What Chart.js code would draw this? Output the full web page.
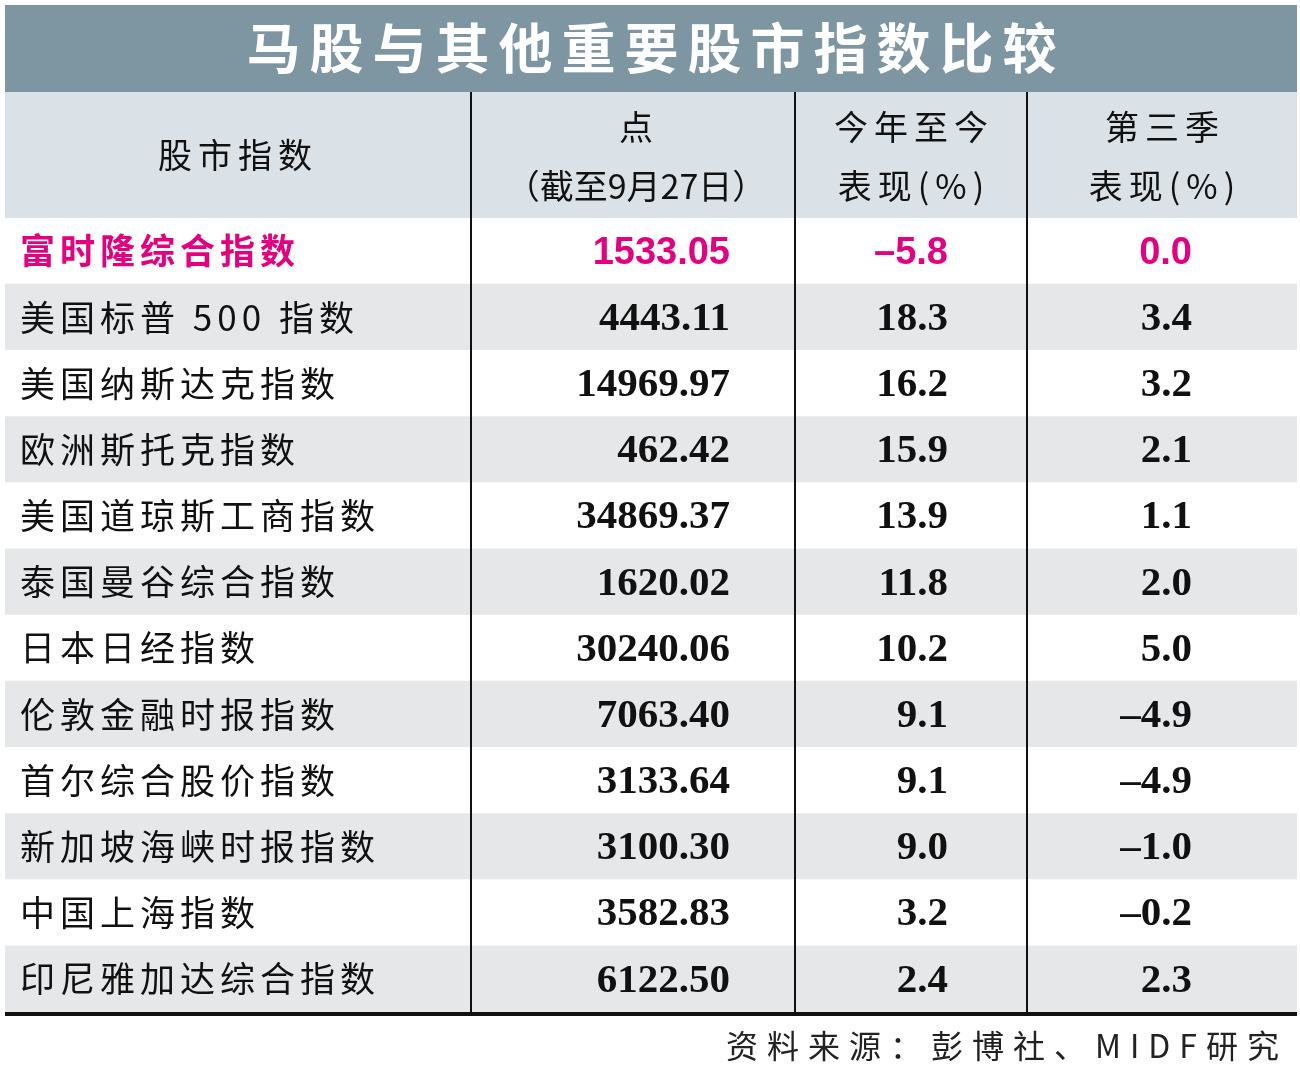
<!DOCTYPE html>
<html><head><meta charset="utf-8">
<script src="https://cdn.jsdelivr.net/npm/chart.js@4"></script>
<style>html,body{margin:0;padding:0;background:#fff}#wrap{width:1300px;height:1084px}</style>
</head><body><div id="wrap"><canvas id="c"></canvas></div>
<script>
const title = "马股与其他重要股市指数比较";
const headers = [["股市指数"],["点","（截至9月27日）"],["今年至今","表现(%)"],["第三季","表现(%)"]];
const names = ["富时隆综合指数","美国标普 500 指数","美国纳斯达克指数","欧洲斯托克指数","美国道琼斯工商指数","泰国曼谷综合指数","日本日经指数","伦敦金融时报指数","首尔综合股价指数","新加坡海峡时报指数","中国上海指数","印尼雅加达综合指数"];
const points = ["1533.05","4443.11","14969.97","462.42","34869.37","1620.02","30240.06","7063.40","3133.64","3100.30","3582.83","6122.50"];
const ytd = ["–5.8","18.3","16.2","15.9","13.9","11.8","10.2","9.1","9.1","9.0","3.2","2.4"];
const q3 = ["0.0","3.4","3.2","2.1","1.1","2.0","5.0","–4.9","–4.9","–1.0","–0.2","2.3"];
const colEdges = [0, 466, 790, 1022, 1292];
const source = "资料来源：彭博社、MIDF研究";

const CJK = '"Noto Sans CJK SC", sans-serif';
const tablePlugin = {
  id:'table',
  beforeDatasetsDraw(chart){
    const {ctx, chartArea:a, scales:{x}} = chart;
    ctx.save();
    const x0 = x.getPixelForValue(colEdges[0]), w = x.getPixelForValue(colEdges[4]) - x0;
    ctx.fillStyle = '#7e95a2';
    ctx.fillRect(x0, 5, w, 87);
    ctx.fillStyle = '#dbe2e7';
    ctx.fillRect(x0, 92, w, a.top - 92);
    ctx.restore();
  },
  afterDatasetsDraw(chart){
    const {ctx, chartArea:a, scales:{x,y}} = chart;
    ctx.save();
    ctx.textBaseline = 'middle';
    ctx.fillStyle = '#fff';
    ctx.font = 'bold 54px ' + CJK;
    ctx.letterSpacing = '9px';
    ctx.textAlign = 'center';
    ctx.fillText(title, 656, 48);
    ctx.fillStyle = '#111';
    ctx.font = '34px ' + CJK;
    const cx = i => (x.getPixelForValue(colEdges[i]) + x.getPixelForValue(colEdges[i+1]))/2;
    ctx.letterSpacing = '6px';
    ctx.fillText(headers[0][0], cx(0), 155);
    for (let i=1;i<4;i++){
      ctx.letterSpacing = headers[i][1].length > 6 ? '0px' : '6px';
      ctx.fillText(headers[i][0], cx(i)+3, 127);
      ctx.fillText(headers[i][1], cx(i)+3, 186);
    }
    names.forEach((n,i)=>{
      const py = y.getPixelForValue(i);
      const pink = i===0;
      ctx.fillStyle = pink ? '#e4007f' : '#111';
      ctx.textAlign = 'left';
      ctx.letterSpacing = '5px';
      ctx.font = (pink?'bold ':'') + '35px ' + CJK;
      ctx.fillText(n, x.getPixelForValue(colEdges[0]) + 15, py);
      ctx.letterSpacing = '0px';
      ctx.textAlign = 'right';
      ctx.font = pink ? 'bold 38px "Liberation Sans", sans-serif' : 'bold 41px "Liberation Serif", serif';
      ctx.fillText(points[i], x.getPixelForValue(colEdges[1]) + 259, py+2);
      ctx.fillText(ytd[i], x.getPixelForValue(colEdges[2]) + 153, py+2);
      ctx.fillText(q3[i], x.getPixelForValue(colEdges[3]) + 165, py+2);
    });
    ctx.strokeStyle = '#111';
    ctx.lineWidth = 2;
    for (let i=1;i<4;i++){
      const px = Math.round(x.getPixelForValue(colEdges[i]));
      ctx.beginPath(); ctx.moveTo(px, 92); ctx.lineTo(px, a.bottom); ctx.stroke();
    }
    ctx.lineWidth = 4;
    ctx.beginPath(); ctx.moveTo(x.getPixelForValue(colEdges[0]), a.bottom+2); ctx.lineTo(x.getPixelForValue(colEdges[4]), a.bottom+2); ctx.stroke();
    ctx.fillStyle = '#222';
    ctx.textAlign = 'right';
    ctx.font = '32px ' + CJK;
    ctx.letterSpacing = '9px';
    ctx.fillText(source, 1288, 1046);
    ctx.restore();
  }
};

new Chart(document.getElementById('c'), {
  type:'bar',
  data:{ labels: names, datasets:[{
    data: names.map(()=>[colEdges[0], colEdges[4]]),
    backgroundColor: names.map((_,i)=> i%2===0 ? '#ffffff' : '#e6e7e9'),
    barPercentage:1, categoryPercentage:1, borderWidth:0
  }]},
  options:{
    indexAxis:'y', responsive:true, maintainAspectRatio:false, animation:false,
    layout:{padding:{left:5, right:3, top:218, bottom:72}},
    plugins:{legend:{display:false}, tooltip:{enabled:false}},
    scales:{
      x:{type:'linear', min:colEdges[0], max:colEdges[4], display:false},
      y:{type:'category', display:false}
    }
  },
  plugins:[tablePlugin]
});
</script></body></html>
